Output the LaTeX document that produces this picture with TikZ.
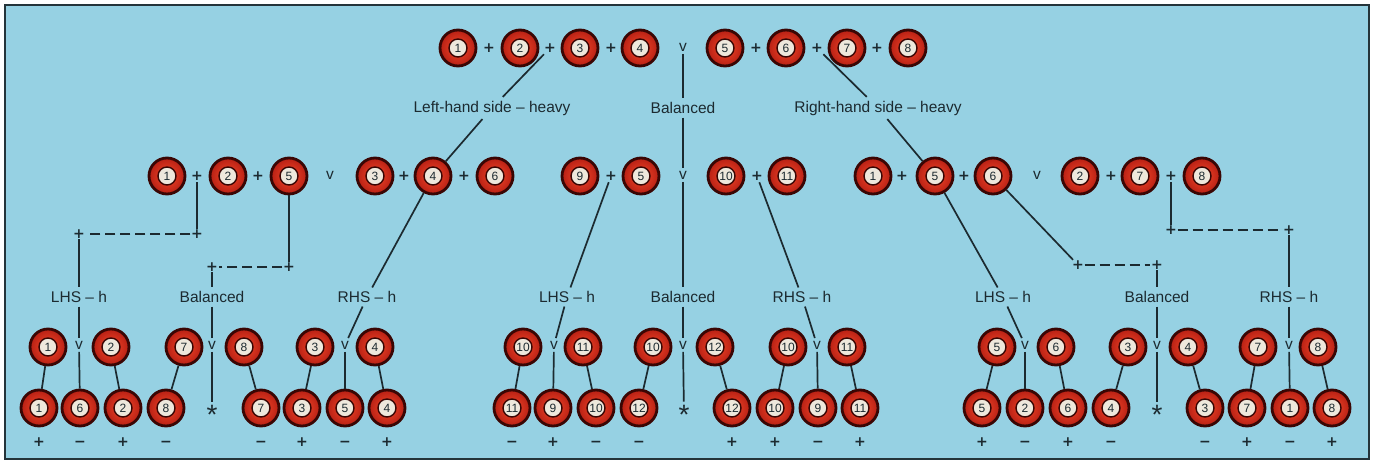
\documentclass[tikz,border=0pt]{standalone}
\usepackage{fontspec}
\setmainfont{Liberation Sans}
\newfontfamily\signfont{DejaVu Sans}
\usetikzlibrary{positioning}
\definecolor{bgblue}{HTML}{96D1E3}
\definecolor{frameink}{HTML}{24343A}
\definecolor{ink}{HTML}{1C2A30}
\definecolor{ballred}{HTML}{F4482A}
\definecolor{balldark}{HTML}{B82014}
\definecolor{ballrim}{HTML}{3A0604}
\definecolor{disk}{HTML}{EEE8DC}
\tikzset{
  every picture/.style={font=\fontsize{15.5}{18}\selectfont, line width=1.7pt},
  ball/.style={circle, minimum size=36pt, inner sep=0pt, draw=ballrim, line width=2.8pt,
    inner color=ballred, outer color=balldark, text=ink, font=\fontsize{12}{12}\selectfont,
    path picture={\fill[disk, draw=ballrim, line width=1.4pt] (path picture bounding box.center) circle (9pt);}},
  pls/.style={font=\fontsize{14}{14}\selectfont\signfont\bfseries, text=ink, inner sep=1pt},
  sgn/.style={pls, text height=10pt, text depth=0pt},
  vs/.style={text=ink, inner sep=2pt},
  lbl/.style={text=ink, inner sep=3pt},
  asterisk/.style={text=ink, inner sep=3pt, font=\fontsize{28}{28}\selectfont},
  link/.style={draw=ink, line width=1.7pt},
  dlink/.style={link, dash pattern=on 10pt off 5pt},
}

\begin{document}
\begin{tikzpicture}[x=1pt, y=-1pt]
  \useasboundingbox (0,0) rectangle (1374,463);
  \draw[draw=frameink, fill=bgblue, line width=2.5pt] (5,5) rectangle (1369,459);

  % eight balls on the scale
  \foreach \n/\x in {1/458, 2/520, 3/580, 4/640, 5/725, 6/786, 7/847, 8/908}
    \node[ball] (top\n) at (\x,48) {\n};
  \foreach \p/\x in {a/489, b/550, c/611, d/756, e/817, f/877}
    \node[pls] (tp\p) at (\x,48) {+};
  \node[vs] (topv) at (683,47) {v};
  \node[lbl] (lhh) at (492,108) {Left-hand side -- heavy};
  \node[lbl] (bal) at (683,108) {Balanced};
  \node[lbl] (rhh) at (878,108) {Right-hand side -- heavy};

  % second weighing
  \foreach \nm/\x/\n in {l1/167/1, l2/228/2, l5/289/5, l3/375/3, l4/433/4, l6/495/6,
      b9/580/9, b5/641/5, b10/726/10, b11/787/11,
      r1/873/1, r5/935/5, r6/993/6, r2/1080/2, r7/1140/7, r8/1202/8}
    \node[ball] (\nm) at (\x,176) {\n};
  \foreach \nm/\x in {lp12/197, lp25/258, lp34/404, lp46/464, bp95/611, bp1011/757,
      rp15/902, rp56/964, rp27/1111, rp78/1171}
    \node[pls] (\nm) at (\x,176) {+};
  \node[vs] (lv) at (330,175) {v};
  \node[vs] (bv) at (683,175) {v};
  \node[vs] (rv) at (1037,175) {v};

  % corners of the dashed links
  \foreach \k/\x/\y in {k1/197/234, k2/79/234, k3/289/267, k4/212/267,
      k5/1078/265, k6/1157/265, k7/1171/230, k8/1289/230}
    \node[pls, inner sep=0pt] (\k) at (\x,\y) {+};

  % third weighing
  \foreach \h/\x/\t in {h1/79/LHS -- h, h2/212/Balanced, h3/367/RHS -- h,
      h4/567/LHS -- h, h5/683/Balanced, h6/802/RHS -- h,
      h7/1003/LHS -- h, h8/1157/Balanced, h9/1289/RHS -- h}
    \node[lbl] (\h) at (\x,297) {\t};
  \foreach \g/\xl/\nl/\xv/\xr/\nr in {1/48/1/79/111/2, 2/184/7/212/244/8, 3/315/3/345/375/4,
      4/523/10/554/583/11, 5/653/10/683/715/12, 6/788/10/817/847/11,
      7/997/5/1025/1056/6, 8/1128/3/1157/1188/4, 9/1258/7/1289/1318/8} {
    \node[ball] (g\g-l) at (\xl,347) {\nl};
    \node[vs] (g\g-v) at (\xv,345) {v};
    \node[ball] (g\g-r) at (\xr,347) {\nr};
  }

  % odd ball found
  \foreach \nm/\x/\n/\s in {g1-a/39/1/+, g1-b/80/6/−, g1-c/123/2/+,
      g2-a/166/8/−, g2-c/261/7/−,
      g3-a/302/3/+, g3-b/345/5/−, g3-c/387/4/+,
      g4-a/512/11/−, g4-b/553/9/+, g4-c/596/10/−,
      g5-a/639/12/−, g5-c/732/12/+,
      g6-a/775/10/+, g6-b/818/9/−, g6-c/860/11/+,
      g7-a/982/5/+, g7-b/1025/2/−, g7-c/1068/6/+,
      g8-a/1111/4/−, g8-c/1205/3/−,
      g9-a/1247/7/+, g9-b/1290/1/−, g9-c/1332/8/+} {
    \node[ball] (\nm) at (\x,408) {\n};
    \node[sgn, below=7pt of \nm] (\nm-s) {\s};
  }
  \foreach \nm/\x in {g2-b/212, g5-b/684, g8-b/1157}
    \node[asterisk] (\nm) at (\x,415) {*};

  % connectors
  \draw[link] (tpb) -- (lhh);  \draw[link] (lhh) -- (l4);
  \draw[link] (topv) -- (bal); \draw[link] (bal) -- (bv);
  \draw[link] (tpe) -- (rhh);  \draw[link] (rhh) -- (r5);

  \draw[link] (lp12) -- (k1); \draw[dlink] (k1) -- (k2); \draw[link] (k2) -- (h1);
  \draw[link] (l5) -- (k3);   \draw[dlink] (k3) -- (k4); \draw[link] (k4) -- (h2);
  \draw[link] (l4) -- (h3);
  \draw[link] (bp95) -- (h4);
  \draw[link] (bv) -- (h5);
  \draw[link] (bp1011) -- (h6);
  \draw[link] (r5) -- (h7);
  \draw[link] (r6) -- (k5);   \draw[dlink] (k5) -- (k6); \draw[link] (k6) -- (h8);
  \draw[link] (rp78) -- (k7); \draw[dlink] (k7) -- (k8); \draw[link] (k8) -- (h9);

  \foreach \g in {1,...,9} {
    \draw[link] (h\g) -- (g\g-v);
    \draw[link] (g\g-l) -- (g\g-a);
    \draw[link] (g\g-v) -- (g\g-b);
    \draw[link] (g\g-r) -- (g\g-c);
  }
\end{tikzpicture}
\end{document}
